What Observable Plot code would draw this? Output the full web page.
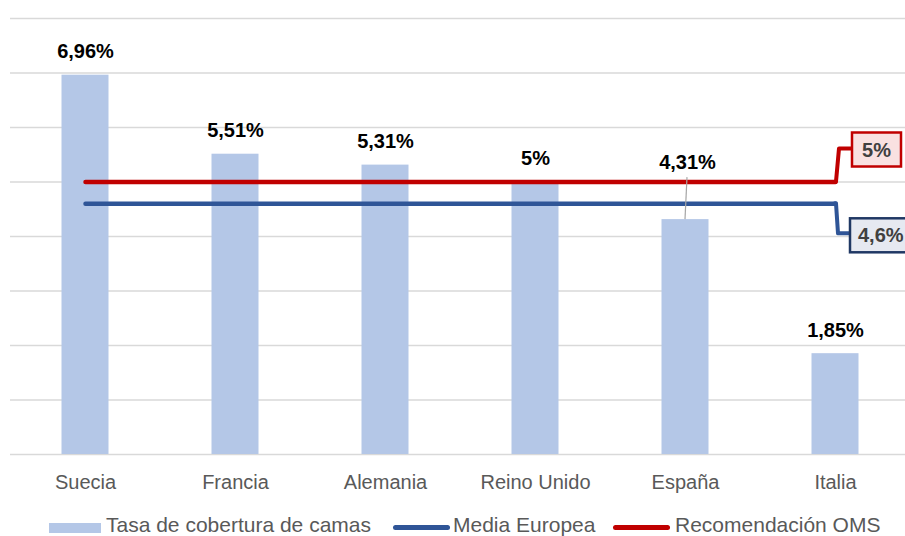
<!DOCTYPE html>
<html>
<head>
<meta charset="utf-8">
<script src="https://cdn.jsdelivr.net/npm/d3@7"></script>
<script src="https://cdn.jsdelivr.net/npm/@observablehq/plot@0.6"></script>
<style>
  html, body { margin: 0; padding: 0; background: #fff; }
  body { width: 905px; height: 536px; overflow: hidden; position: relative; font-family: "Liberation Sans", Arial, sans-serif; }
  #legend { position: absolute; left: 0; top: 505px; width: 905px; height: 31px; font-size: 21px; color: #595959; }
  #legend .sw { position: absolute; }
  #legend .tx { position: absolute; top: 9px; line-height: 22px; white-space: nowrap; }
</style>
</head>
<body>
<div id="chart"></div>
<div id="legend"></div>
<script>
const categories = ["Suecia", "Francia", "Alemania", "Reino Unido", "España", "Italia"];
const tasa = [6.96, 5.51, 5.31, 5.00, 4.31, 1.85];
const tasaLabels = ["6,96%", "5,51%", "5,31%", "5%", "4,31%", "1,85%"];
const mediaEuropea = [4.6, 4.6, 4.6, 4.6, 4.6, 4.6];
const recomendacionOMS = [5, 5, 5, 5, 5, 5];
const mediaLabel = "4,6%";
const omsLabel = "5%";
const yTicks = [0, 1, 2, 3, 4, 5, 6, 7, 8];
const seriesNames = ["Tasa de cobertura de camas", "Media Europea", "Recomendación OMS"];

const barColor = "#b4c7e7";
const blue = "#2f5597";
const red = "#c00000";

const rows = categories.map((c, i) => ({
  cat: c, tasa: tasa[i], label: tasaLabels[i], media: mediaEuropea[i], oms: recomendacionOMS[i]
}));
const lastCat = categories[categories.length - 1];
const leaderCat = "España";

function callouts(index, scales) {
  const ns = "http://www.w3.org/2000/svg";
  const x = scales.x, y = scales.y;
  const bw = x.bandwidth ? x.bandwidth() : 0;
  const g = document.createElementNS(ns, "g");
  const last = rows[rows.length - 1];
  const cx = x(lastCat) + bw / 2;

  function add(tag, attrs, text) {
    const el = document.createElementNS(ns, tag);
    for (const k in attrs) el.setAttribute(k, attrs[k]);
    if (text != null) el.textContent = text;
    g.appendChild(el);
    return el;
  }
  // leader line for España label
  const ei = categories.indexOf(leaderCat);
  const ex = x(leaderCat) + bw / 2;
  const ey = y(tasa[ei]);
  add("line", {x1: ex + 2, y1: ey - 42, x2: ex, y2: ey, stroke: "#a6a6a6", "stroke-width": 1.2});

  // OMS callout
  const ry = y(last.oms);
  add("path", {d: `M${cx},${ry} L${cx + 1},${ry} L${cx + 4},${ry - 33} L${cx + 17},${ry - 33}`,
    fill: "none", stroke: red, "stroke-width": 4, "stroke-linejoin": "round", "stroke-linecap": "round"});
  add("rect", {x: cx + 17, y: ry - 49, width: 49, height: 34, fill: "#f9e1e1", stroke: red, "stroke-width": 2.5});
  add("text", {x: cx + 17 + 24.5, y: ry - 25, "text-anchor": "middle", fill: "#404040",
    "font-size": 20, "font-weight": "bold"}, omsLabel);

  // Media callout
  const by = y(last.media);
  add("path", {d: `M${cx},${by} L${cx + 1},${by} L${cx + 3},${by + 30} L${cx + 15},${by + 30}`,
    fill: "none", stroke: blue, "stroke-width": 4, "stroke-linejoin": "round", "stroke-linecap": "round"});
  add("rect", {x: cx + 15, y: by + 15, width: 62, height: 34, fill: "#e6e9f1", stroke: "#203864", "stroke-width": 2.5});
  add("text", {x: cx + 15 + 8, y: by + 39, "text-anchor": "start", fill: "#404040",
    "font-size": 20, "font-weight": "bold"}, mediaLabel);
  return g;
}

const chart = Plot.plot({
  width: 905,
  height: 505,
  marginLeft: 10,
  marginRight: 0,
  marginTop: 18,
  marginBottom: 51,
  style: {fontFamily: "'Liberation Sans', Arial, sans-serif", fontSize: "20px", color: "#595959", background: "#fff"},
  x: {type: "band", domain: categories, range: [10, 910], padding: 0, tickSize: 0, tickPadding: 20, label: null},
  y: {domain: [0, 8], axis: null},
  marks: [
    Plot.ruleY(yTicks, {stroke: "#d9d9d9", strokeWidth: 1.5}),
    Plot.barY(rows, {x: "cat", y: "tasa", fill: barColor, insetLeft: 51.5, insetRight: 51.5}),
    Plot.line(rows, {x: "cat", y: "media", stroke: blue, strokeWidth: 4.5, strokeLinecap: "round"}),
    Plot.line(rows, {x: "cat", y: "oms", stroke: red, strokeWidth: 4.5, strokeLinecap: "round"}),
    Plot.text(rows.filter(d => d.cat !== leaderCat), {x: "cat", y: "tasa", text: "label", dy: -17, lineAnchor: "bottom",
      fill: "#000", fontWeight: "bold", fontSize: 20}),
    Plot.text(rows.filter(d => d.cat === leaderCat), {x: "cat", y: "tasa", text: "label", dy: -51, dx: 2, lineAnchor: "bottom",
      fill: "#000", fontWeight: "bold", fontSize: 20}),
    callouts
  ]
});
document.getElementById("chart").appendChild(chart);

// legend
const legend = document.getElementById("legend");
const items = [
  {name: seriesNames[0], kind: "bar", color: barColor, sx: 49, tx: 106},
  {name: seriesNames[1], kind: "line", color: blue, sx: 393, tx: 453},
  {name: seriesNames[2], kind: "line", color: red, sx: 613, tx: 675}
];
for (const it of items) {
  const sw = document.createElement("div");
  sw.className = "sw";
  if (it.kind === "bar") {
    Object.assign(sw.style, {left: it.sx + "px", top: "18px", width: "52px", height: "10px", background: it.color});
  } else {
    Object.assign(sw.style, {left: it.sx + "px", top: "20px", width: "57px", height: "5px", background: it.color, borderRadius: "3px"});
  }
  legend.appendChild(sw);
  const tx = document.createElement("div");
  tx.className = "tx";
  tx.style.left = it.tx + "px";
  tx.textContent = it.name;
  legend.appendChild(tx);
}
</script>
</body>
</html>
